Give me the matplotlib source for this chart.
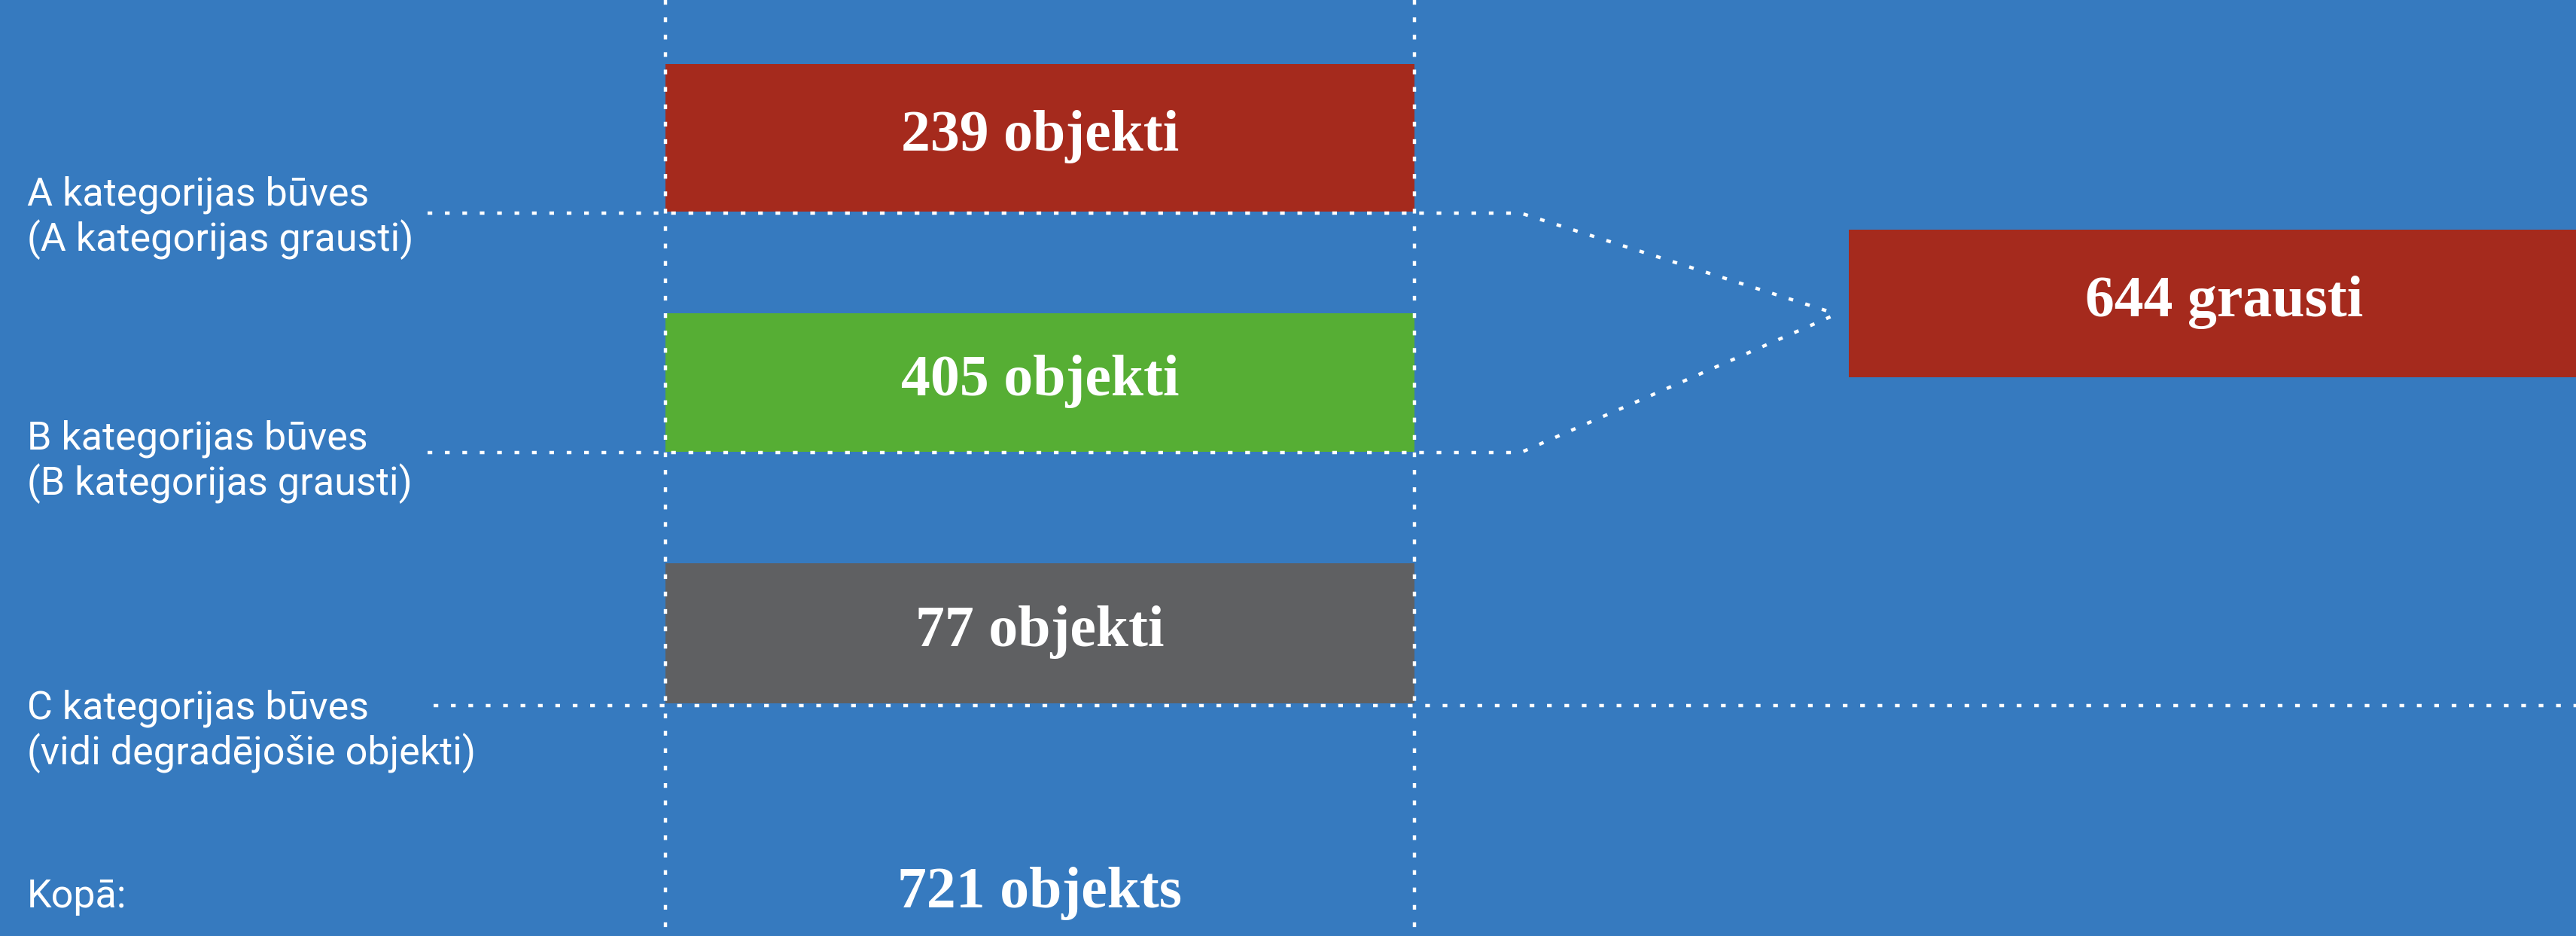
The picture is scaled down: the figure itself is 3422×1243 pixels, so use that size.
import matplotlib.pyplot as plt

# data
categories = ["A", "B", "C"]
label_lines = [
    ["A kategorijas būves", "(A kategorijas grausti)"],
    ["B kategorijas būves", "(B kategorijas grausti)"],
    ["C kategorijas būves", "(vidi degradējošie objekti)"],
]
counts = [239, 405, 77]
total = 721
grausti = 644  # A + B

bg = "#367ABF"
bar_colors = ["#A52A1D", "#56AE34", "#5F6062"]
white = "#FFFFFF"

W, H = 3422, 1243
fig = plt.figure(figsize=(W / 100, H / 100), dpi=100)
fig.patch.set_facecolor(bg)
ax = fig.add_axes([0, 0, 1, 1])
ax.set_facecolor(bg)
ax.set_xlim(0, W)
ax.set_ylim(H, 0)
ax.axis("off")

# layout (pixels)
col_left, col_right = 884, 1879
bar_tops = [85, 416, 748]
bar_bottoms = [281, 600, 934]
line_y = [283, 601, 937]
line_start = [568, 568, 576]
label_base = [272, 596, 954]
line_gap = 61

sans = ["Roboto", "DejaVu Sans"]
serif = ["Liberation Serif", "DejaVu Serif"]
dots = dict(color=white, lw=3.2, ls=(0, (1.4, 3.8)), zorder=5)

heights = [b - t for t, b in zip(bar_tops, bar_bottoms)]
centers = [(t + b) / 2 for t, b in zip(bar_tops, bar_bottoms)]
ax.barh(centers, [col_right - col_left] * len(counts), height=heights,
        left=col_left, color=bar_colors, zorder=2)

for i, n in enumerate(counts):
    ax.text((col_left + col_right) / 2, centers[i] + 17, "%d objekti" % n,
            color=white, fontsize=56, fontweight="bold", family=serif,
            ha="center", va="baseline", zorder=6)
    for k, s in enumerate(label_lines[i]):
        ax.text(36, label_base[i] + k * line_gap, s, color=white,
                fontsize=37.5, family=sans, ha="left", va="baseline")

# vertical guides
for x in (col_left, col_right):
    ax.plot([x, x], [0, H], **dots)

# horizontal guides; A and B merge into the "grausti" box
knee_x, tip_x, tip_y = 2020, 2440, 417
for i in range(2):
    ax.plot([line_start[i], knee_x, tip_x], [line_y[i], line_y[i], tip_y], **dots)
ax.plot([line_start[2], W], [line_y[2], line_y[2]], **dots)

# merged box
box_top, box_bottom, box_left = 305, 501, 2456
ax.barh((box_top + box_bottom) / 2, W - box_left, height=box_bottom - box_top,
        left=box_left, color=bar_colors[0], zorder=2)
ax.text(2955, (box_top + box_bottom) / 2 + 17, "%d grausti" % grausti,
        color=white, fontsize=56, fontweight="bold", family=serif,
        ha="center", va="baseline", zorder=6)

# total row
ax.text(36, 1205, "Kopā:", color=white, fontsize=37.5, family=sans,
        ha="left", va="baseline")
ax.text((col_left + col_right) / 2, 1205, "%d objekts" % total, color=white,
        fontsize=56, fontweight="bold", family=serif, ha="center", va="baseline")

fig.savefig("out.png", dpi=100, facecolor=bg)
